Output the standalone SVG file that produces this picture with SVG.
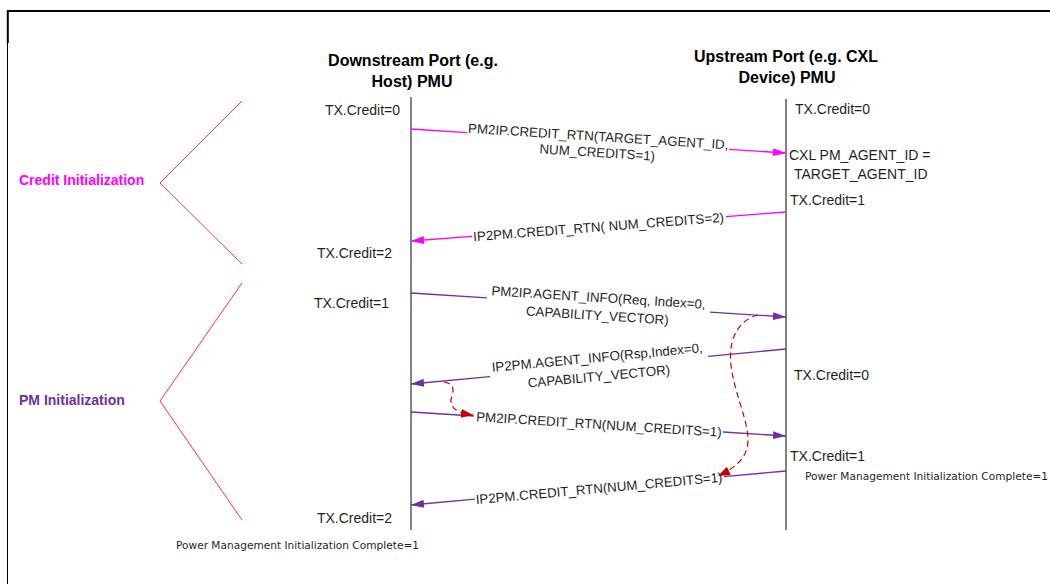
<svg xmlns="http://www.w3.org/2000/svg" width="1050" height="584" viewBox="0 0 1050 584">
<style>
.hdr{font-family:"Liberation Sans",Arial,sans-serif;font-weight:bold;font-size:16px;fill:#000;text-anchor:middle}
.tx{font-family:"Liberation Sans",Arial,sans-serif;font-size:14px;fill:#1f1f1f}
.lbl{font-family:"Liberation Sans",Arial,sans-serif;font-size:13.3px;fill:#1f1f1f;text-anchor:middle}
.sec{font-family:"Liberation Sans",Arial,sans-serif;font-weight:bold;font-size:14px}
.small{font-family:"DejaVu Sans",Verdana,sans-serif;font-size:10.5px;fill:#1f1f1f}
.life{stroke:#595959;stroke-width:1.5;fill:none}
.mag{stroke:#FF00FF;stroke-width:1.3;fill:none}
.pur{stroke:#7030A0;stroke-width:1.3;fill:none}
.dash{stroke:#C00000;stroke-width:1.2;fill:none;stroke-dasharray:6 4}
.brk{stroke:#FF3333;stroke-width:1;fill:none}
</style>
<defs>
<marker id="mMag" markerUnits="userSpaceOnUse" markerWidth="14" markerHeight="9" refX="13" refY="4" orient="auto"><path d="M0,0 L13,4 L0,8 z" fill="#FF00FF"/></marker>
<marker id="mPur" markerUnits="userSpaceOnUse" markerWidth="14" markerHeight="9" refX="13" refY="4" orient="auto"><path d="M0,0 L13,4 L0,8 z" fill="#7030A0"/></marker>
<marker id="mRed" markerUnits="userSpaceOnUse" markerWidth="14" markerHeight="10" refX="12" refY="4.5" orient="auto"><path d="M0,0 L12,4.5 L0,9 z" fill="#C00000"/></marker>
</defs>
<rect x="0" y="0" width="1050" height="584" fill="#fff"/>
<g id="frame">
<line x1="7" y1="11" x2="1050" y2="11" stroke="#000" stroke-width="2"/>
<line x1="7.8" y1="10" x2="7.8" y2="43" stroke="#000" stroke-width="2"/>
<line x1="7.5" y1="43" x2="7.5" y2="584" stroke="#000" stroke-width="1"/>
</g>
<g id="downstream">
<text class="hdr" x="413" y="66">Downstream Port (e.g.</text>
<text class="hdr" x="412" y="87">Host) PMU</text>
<line class="life" x1="411" y1="97" x2="411" y2="530"/>
</g>
<g id="upstream">
<text class="hdr" x="786" y="62">Upstream Port (e.g. CXL</text>
<text class="hdr" x="787" y="83">Device) PMU</text>
<line class="life" x1="786" y1="99" x2="786" y2="530"/>
</g>
<g id="credit-init">
<text class="sec" x="19" y="185" fill="#FF00FF">Credit Initialization</text>
<polyline class="brk" points="242,101 160,183 242,264"/>
</g>
<g id="pm-init">
<text class="sec" x="19" y="405" fill="#7030A0">PM Initialization</text>
<polyline class="brk" points="242,283 160,401 242,520"/>
</g>
<g id="downstream-states">
<text class="tx" x="400" y="115" text-anchor="end">TX.Credit=0</text>
<text class="tx" x="392" y="258" text-anchor="end">TX.Credit=2</text>
<text class="tx" x="389" y="308" text-anchor="end">TX.Credit=1</text>
<text class="tx" x="392" y="523" text-anchor="end">TX.Credit=2</text>
<text class="small" x="176" y="549" textLength="243" lengthAdjust="spacingAndGlyphs">Power Management Initialization Complete=1</text>
</g>
<g id="upstream-states">
<text class="tx" x="795" y="114">TX.Credit=0</text>
<text class="tx" x="789" y="160">CXL PM_AGENT_ID =</text>
<text class="tx" x="794" y="179">TARGET_AGENT_ID</text>
<text class="tx" x="790" y="205">TX.Credit=1</text>
<text class="tx" x="794" y="380">TX.Credit=0</text>
<text class="tx" x="790" y="461">TX.Credit=1</text>
<text class="small" x="805" y="480" textLength="243" lengthAdjust="spacingAndGlyphs">Power Management Initialization Complete=1</text>
</g>
<g id="connectors">
<line class="mag" x1="411" y1="129" x2="467" y2="132.6"/>
<line class="mag" x1="729" y1="149.4" x2="786" y2="153" marker-end="url(#mMag)"/>
<g transform="translate(598,141) rotate(3.66)">
<text class="lbl" x="0" y="0">PM2IP.CREDIT_RTN(TARGET_AGENT_ID,</text>
<text class="lbl" x="0" y="16">NUM_CREDITS=1)</text>
</g>
<line class="mag" x1="786" y1="212" x2="726" y2="216.6"/>
<line class="mag" x1="472" y1="236.3" x2="411" y2="241" marker-end="url(#mMag)"/>
<g transform="translate(598.5,226.5) rotate(-4.42)">
<text class="lbl" x="0" y="5">IP2PM.CREDIT_RTN( NUM_CREDITS=2)</text>
</g>
<line class="pur" x1="411" y1="293" x2="487" y2="297.9"/>
<line class="pur" x1="710" y1="312.1" x2="786" y2="317" marker-end="url(#mPur)"/>
<g transform="translate(598,305) rotate(3.66)">
<text class="lbl" x="0" y="-3">PM2IP.AGENT_INFO(Req, Index=0,</text>
<text class="lbl" x="0" y="15">CAPABILITY_VECTOR)</text>
</g>
<line class="pur" x1="786" y1="349" x2="708" y2="356.3"/>
<line class="pur" x1="490" y1="376.6" x2="411" y2="384" marker-end="url(#mPur)"/>
<g transform="translate(598,366.5) rotate(-5.33)">
<text class="lbl" x="0" y="-4.5">IP2PM.AGENT_INFO(Rsp,Index=0,</text>
<text class="lbl" x="0" y="14.5">CAPABILITY_VECTOR)</text>
</g>
<line class="pur" x1="411" y1="412" x2="474" y2="416"/>
<line class="pur" x1="723" y1="432" x2="786" y2="436" marker-end="url(#mPur)"/>
<g transform="translate(599,424) rotate(3.66)">
<text class="lbl" x="0" y="5">PM2IP.CREDIT_RTN(NUM_CREDITS=1)</text>
</g>
<line class="pur" x1="786" y1="471" x2="724" y2="476.6"/>
<line class="pur" x1="475" y1="499.2" x2="411" y2="505" marker-end="url(#mPur)"/>
<g transform="translate(599,488) rotate(-5.18)">
<text class="lbl" x="0" y="5">IP2PM.CREDIT_RTN(NUM_CREDITS=1)</text>
</g>
<path class="dash" d="M444,382 C452,383 455,388 452,396 C449,404 451,412 473,415" marker-end="url(#mRed)"/>
<path class="dash" d="M758,315 C738,320 728,340 731,365 C734,392 748,420 748,440 C748,458 735,468 718,476" marker-end="url(#mRed)"/>
</g>
</svg>
